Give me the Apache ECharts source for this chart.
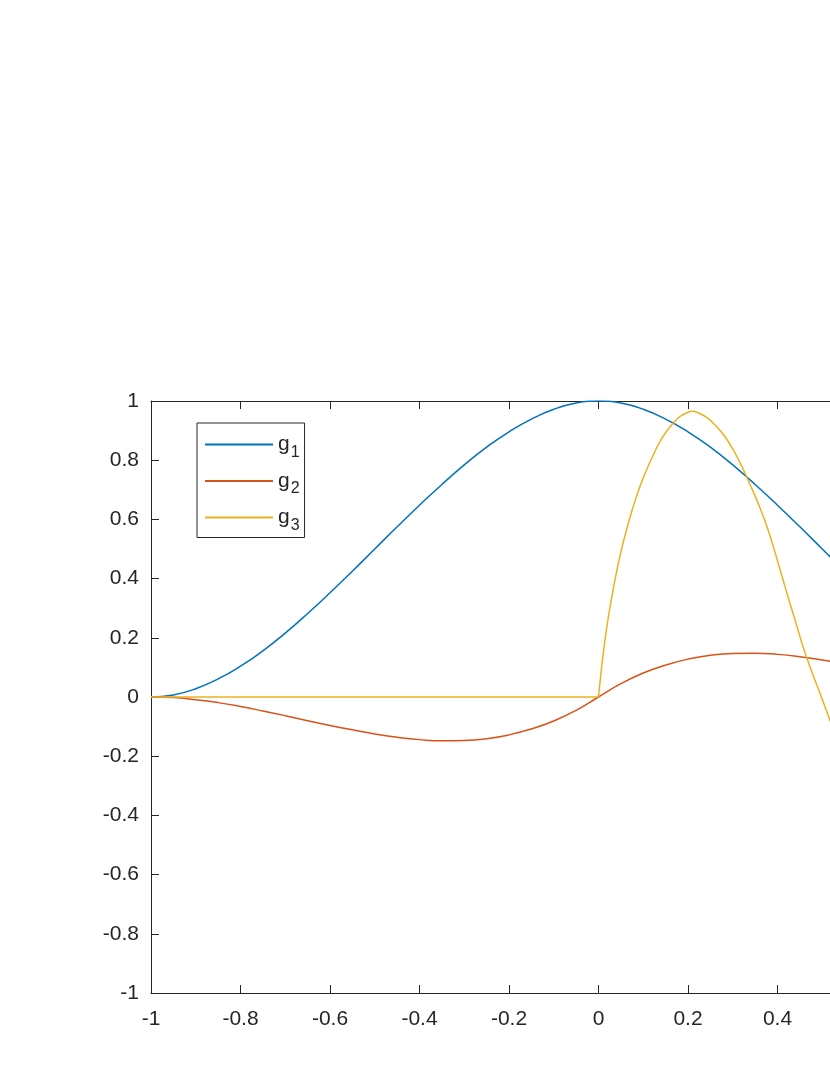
<!DOCTYPE html>
<html>
<head>
<meta charset="utf-8">
<script src="https://cdn.jsdelivr.net/npm/echarts@6/dist/echarts.min.js"></script>
<style>
    html, body { margin: 0; padding: 0; background: #fff; overflow: hidden; }
    #chart { width: 1200px; height: 1075px; }
</style>
</head>
<body>
<div id="chart"></div>
<script>
// x positions shared by g1 / g2
var xVals = [-1, -0.95, -0.9, -0.85, -0.8, -0.75, -0.7, -0.65, -0.6, -0.55, -0.5,
    -0.45, -0.4, -0.35, -0.3, -0.25, -0.2, -0.15, -0.1, -0.05, 0,
    0.05, 0.1, 0.15, 0.2, 0.25, 0.3, 0.35, 0.4, 0.45, 0.5,
    0.55, 0.6, 0.65, 0.7, 0.75, 0.8, 0.85, 0.9, 0.95, 1]
var g1Vals = [0, 0.007, 0.028, 0.061, 0.104, 0.156, 0.216, 0.282, 0.352, 0.425, 0.5,
    0.575, 0.648, 0.718, 0.784, 0.844, 0.896, 0.939, 0.972, 0.993, 1,
    0.993, 0.972, 0.939, 0.896, 0.844, 0.784, 0.718, 0.648, 0.575, 0.5,
    0.425, 0.352, 0.282, 0.216, 0.156, 0.104, 0.061, 0.028, 0.007, 0]
var g2Vals = [0, -0.002, -0.009, -0.019, -0.032, -0.047, -0.063, -0.080, -0.096, -0.111, -0.125,
    -0.136, -0.144, -0.148, -0.147, -0.141, -0.128, -0.108, -0.081, -0.045, 0,
    0.045, 0.081, 0.108, 0.128, 0.141, 0.147, 0.148, 0.144, 0.136, 0.125,
    0.111, 0.096, 0.080, 0.063, 0.047, 0.032, 0.019, 0.009, 0.002, 0]
// g3: flat part up to 0, then the hump
var g3FlatX = [-1, 0]
var g3FlatVals = [0, 0]
var g3X = [0, 0.01, 0.02, 0.03, 0.04, 0.05, 0.06, 0.07, 0.08, 0.09, 0.1,
    0.12, 0.14, 0.16, 0.18, 0.2, 0.21, 0.22, 0.24, 0.26, 0.28, 0.3, 0.32, 0.34, 0.36,
    0.38, 0.4, 0.42, 0.44, 0.46, 0.48, 0.5, 0.52, 0.54, 0.56, 0.58, 0.6]
var g3Vals = [0, 0.14, 0.25, 0.34, 0.42, 0.49, 0.55, 0.605, 0.655, 0.70, 0.74,
    0.81, 0.87, 0.913, 0.945, 0.962, 0.965, 0.962, 0.946, 0.92, 0.885, 0.838, 0.78, 0.713, 0.643,
    0.56, 0.46, 0.356, 0.256, 0.156, 0.072, -0.008, -0.09, -0.18, -0.27, -0.36, -0.45]
var seriesNames = ['g1', 'g2', 'g3']
var colors = ['#0072BD', '#D95319', '#EDB120']

var axisColor = '#262626'
var font = '"Liberation Sans", Arial, sans-serif'

function pairs(xs, ys) {
    return xs.map(function (x, i) { return [x, ys[i]] })
}

function boxAxis(position, showLabel) {
    return {
        type: 'value',
        position: position,
        min: -1,
        max: 1,
        interval: 0.2,
        splitLine: {show: false},
        axisLine: {onZero: false, lineStyle: {color: axisColor, width: 1}},
        axisTick: {inside: true, length: 8, lineStyle: {color: axisColor}},
        axisLabel: {
            show: showLabel,
            color: axisColor,
            fontSize: 21,
            fontFamily: font,
            margin: position === 'bottom' ? 16 : 12
        }
    }
}

function lineSeries(name, color, data, smooth) {
    return {
        name: name,
        type: 'line',
        smooth: smooth,
        symbol: 'none',
        lineStyle: {color: color, width: 1.5},
        itemStyle: {color: color},
        data: data
    }
}

var chart = echarts.init(document.getElementById('chart'))
chart.setOption({
    animation: false,
    backgroundColor: '#fff',
    grid: {left: 151, right: 154, top: 401, bottom: 82},
    xAxis: [boxAxis('bottom', true), boxAxis('top', false)],
    yAxis: [boxAxis('left', true), boxAxis('right', false)],
    legend: {
        orient: 'vertical',
        left: 197,
        top: 423,
        padding: [11, 5, 4, 7],
        itemWidth: 68,
        itemHeight: 20,
        itemGap: 10,
        itemStyle: {opacity: 0},
        backgroundColor: '#fff',
        borderColor: axisColor,
        borderWidth: 1,
        borderRadius: 0,
        data: seriesNames,
        formatter: function (name) {
            return '{g|g}{s|' + name.slice(1) + '}'
        },
        textStyle: {
            color: axisColor,
            fontFamily: font,
            rich: {
                g: {fontSize: 21, fontFamily: font, color: axisColor},
                s: {fontSize: 16, fontFamily: font, color: axisColor, padding: [16, 0, 0, 1]}
            }
        }
    },
    series: [
        lineSeries('g1', colors[0], pairs(xVals, g1Vals), true),
        lineSeries('g2', colors[1], pairs(xVals, g2Vals), true),
        lineSeries('g3', colors[2], pairs(g3FlatX, g3FlatVals), false),
        lineSeries('g3', colors[2], pairs(g3X, g3Vals), 0.4)
    ]
})
</script>
</body>
</html>
